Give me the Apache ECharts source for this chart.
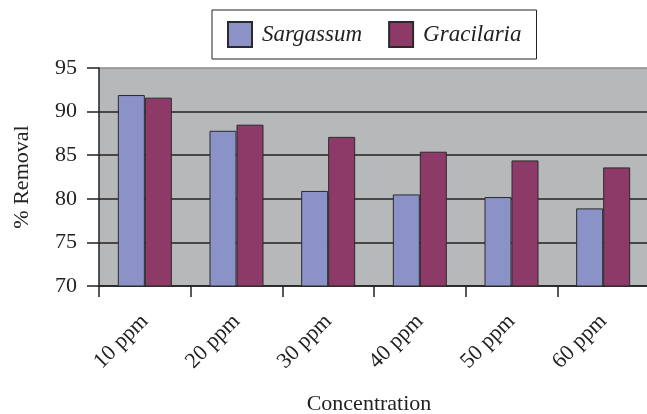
<!DOCTYPE html>
<html>
<head>
<meta charset="utf-8">
<script src="https://cdn.jsdelivr.net/npm/echarts@6/dist/echarts.min.js"></script>
<style>html,body{margin:0;padding:0;background:#fff;}#c{width:647px;height:414px;}</style>
</head>
<body>
<div id="c"></div>
<script>
var categories = ['10 ppm', '20 ppm', '30 ppm', '40 ppm', '50 ppm', '60 ppm'];
var sargassum = [91.9, 87.8, 80.9, 80.5, 80.2, 78.9];
var gracilaria = [91.6, 88.5, 87.1, 85.4, 84.4, 83.6];
var seriesNames = ['Sargassum', 'Gracilaria'];
var yTitle = '% Removal';
var xTitle = 'Concentration';

var font = '"Liberation Serif", "DejaVu Serif", serif';
var chart = echarts.init(document.getElementById('c'), null, {renderer: 'canvas'});
chart.setOption({
  animation: false,
  backgroundColor: '#ffffff',
  legend: {
    left: 212, top: 10,
    padding: [11, 15, 11, 15],
    borderColor: '#222', borderWidth: 1,
    icon: 'rect',
    itemWidth: 24, itemHeight: 25, itemGap: 26,
    textStyle: {fontFamily: font, fontStyle: 'italic', fontSize: 23, color: '#222', padding: [0, 0, 0, 5]},
    data: seriesNames
  },
  grid: {left: 99, top: 68, width: 550, height: 218, outerBoundsMode: 'none', containLabel: false,
         show: true, backgroundColor: '#b7b8ba', borderWidth: 0},
  xAxis: {
    type: 'category', data: categories,
    axisLine: {lineStyle: {color: '#222', width: 1.5}},
    axisTick: {show: true, length: 11, lineStyle: {color: '#222', width: 1.5}},
    axisLabel: {rotate: 45, margin: 32, padding: [11, 0, 0, 0], fontFamily: font, fontSize: 22, color: '#222'},
    name: xTitle, nameLocation: 'middle', nameGap: 107,
    nameTextStyle: {fontFamily: font, fontSize: 22, color: '#222', padding: [0, 10, 0, 0]}
  },
  yAxis: {
    type: 'value', min: 70, max: 95, interval: 5,
    axisLine: {show: true, lineStyle: {color: '#222', width: 1.5}},
    axisTick: {show: true, length: 12, lineStyle: {color: '#222', width: 1.5}},
    axisLabel: {margin: 22, fontFamily: font, fontSize: 22, color: '#222'},
    splitLine: {show: true, lineStyle: {color: ['#222', '#222', '#222', '#222', '#222', '#8a8a8a'], width: 1.5}},
    name: yTitle, nameLocation: 'middle', nameRotate: 90, nameGap: 66,
    nameTextStyle: {fontFamily: font, fontSize: 22, color: '#222'}
  },
  series: [
    {name: seriesNames[0], type: 'bar', data: sargassum, barWidth: 27, barGap: '0%',
     itemStyle: {color: '#8a92c8', borderColor: '#2a2a2a', borderWidth: 1}},
    {name: seriesNames[1], type: 'bar', data: gracilaria, barWidth: 27, barGap: '0%',
     itemStyle: {color: '#8e3a68', borderColor: '#2a2a2a', borderWidth: 1}}
  ]
});
</script>
</body>
</html>
